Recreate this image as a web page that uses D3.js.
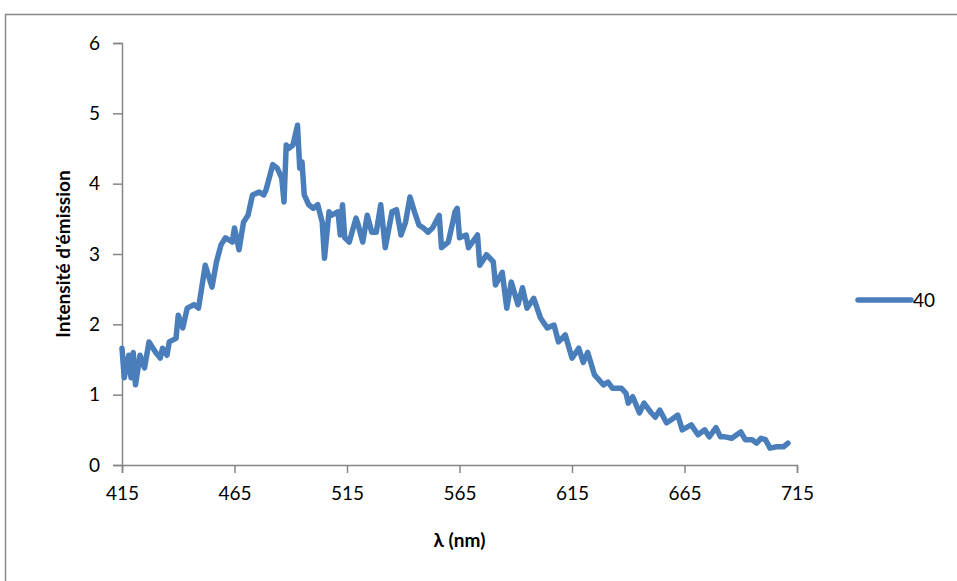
<!DOCTYPE html>
<html>
<head>
<meta charset="utf-8">
<script src="https://cdn.jsdelivr.net/npm/d3@7"></script>
<style>
  body { margin: 0; background: #fff; }
  svg { display: block; }
  text { font-family: Lato, "Open Sans", sans-serif; fill: #000; }
</style>
</head>
<body>
<svg id="chart" width="957" height="581"></svg>
<script>
// Wavelength (nm)
const wavelengths = [415,416,418,419,420,421,423,425,427,430,432,433,435,436,439,440,442,444,447,449,
  452,455,457,459,461,464,465,467,469,471,473,476,478,479,482,484,486,487,488,489,491,493,494,495,496,
  498,500,502,504,505,507,508,511,512,513,514,516,519,520,522,524,526,528,530,532,535,537,539,541,543,
  545,547,549,551,553,556,557,560,562,563,564,565,568,569,573,574,577,580,581,584,586,588,591,593,595,
  598,601,604,607,609,612,615,618,620,622,625,629,631,633,637,639,640,642,645,647,650,652,654,657,659,
  662,664,668,671,674,676,679,681,683,686,690,692,695,697,699,701,703,706,709,711];
// Emission intensity, series "40"
const intensity = [1.66,1.24,1.56,1.24,1.60,1.14,1.56,1.38,1.75,1.60,1.52,1.66,1.56,1.75,1.80,2.13,1.95,2.23,2.28,2.23,
  2.84,2.53,2.89,3.13,3.23,3.17,3.37,3.06,3.45,3.55,3.84,3.88,3.84,3.91,4.27,4.22,4.08,3.74,4.55,4.50,4.55,4.83,4.22,4.31,3.84,
  3.70,3.65,3.70,3.45,2.94,3.60,3.55,3.60,3.27,3.70,3.23,3.17,3.51,3.41,3.17,3.55,3.31,3.31,3.70,3.09,3.60,3.63,3.27,3.45,3.81,
  3.60,3.41,3.37,3.31,3.37,3.55,3.09,3.17,3.45,3.60,3.65,3.23,3.27,3.09,3.27,2.84,2.99,2.89,2.56,2.74,2.23,2.60,2.28,2.52,2.23,
  2.37,2.09,1.95,1.99,1.75,1.85,1.52,1.66,1.46,1.60,1.28,1.14,1.18,1.09,1.09,1.02,0.88,0.97,0.74,0.88,0.75,0.68,0.78,0.60,0.64,
  0.71,0.50,0.57,0.43,0.50,0.40,0.53,0.40,0.40,0.38,0.47,0.36,0.36,0.31,0.38,0.36,0.24,0.26,0.26,0.31];
const xTicks = [415,465,515,565,615,665,715];
const yTicks = [0,1,2,3,4,5,6];
const seriesName = "40";
const xTitle = "λ (nm)";
const yTitle = "Intensité d'émission";

const data = wavelengths.map((w,i) => ({w, v: intensity[i]}));

const svg = d3.select("#chart");
const margin = {left: 122, right: 160, top: 43, bottom: 116};
const W = 957, H = 581;
const axisColor = "#868686";
const lineColor = "#4a7ebb";

// outer chart frame
svg.append("rect").attr("x", 5.5).attr("y", 14.5).attr("width", 1000).attr("height", 1000)
  .attr("fill", "none").attr("stroke", "#8a8a8a").attr("stroke-width", 1.5);

const x = d3.scaleLinear().domain([415, 715]).range([margin.left, W - margin.right]);
const y = d3.scaleLinear().domain([0, 6]).range([H - margin.bottom, margin.top]);

// axes
const xAxis = svg.append("g").attr("transform", `translate(0,${y(0)})`)
  .call(d3.axisBottom(x).tickValues(xTicks).tickSize(8).tickPadding(14).tickFormat(d3.format("d")));
const yAxis = svg.append("g").attr("transform", `translate(${x(415)},0)`)
  .call(d3.axisLeft(y).tickValues(yTicks).tickSize(9).tickPadding(13).tickFormat(d3.format("d")));
[xAxis, yAxis].forEach(g => {
  g.select(".domain").attr("stroke", axisColor).attr("stroke-width", 1.5);
  g.selectAll(".tick line").attr("stroke", axisColor).attr("stroke-width", 1.5);
  g.selectAll(".tick text").attr("font-size", 19).attr("font-family", "Lato, sans-serif").attr("fill", "#000");
});

// line
const line = d3.line().x(d => x(d.w)).y(d => y(d.v));
svg.append("path").datum(data).attr("d", line)
  .attr("fill", "none").attr("stroke", lineColor).attr("stroke-width", 5.5)
  .attr("stroke-linejoin", "round").attr("stroke-linecap", "round");

// axis titles
svg.append("text").attr("x", (x(415) + x(715)) / 2).attr("y", 547)
  .attr("text-anchor", "middle").attr("font-size", 19).attr("font-weight", "bold").text(xTitle);
svg.append("text").attr("transform", `translate(70,${(y(0)+y(6))/2}) rotate(-90)`)
  .attr("text-anchor", "middle").attr("font-size", 19).attr("font-weight", "bold").text(yTitle);

// legend
svg.append("line").attr("x1", 858).attr("x2", 911).attr("y1", 300).attr("y2", 300)
  .attr("stroke", lineColor).attr("stroke-width", 5.5).attr("stroke-linecap", "round");
svg.append("text").attr("x", 913).attr("y", 307).attr("font-size", 19).text(seriesName);
</script>
</body>
</html>
